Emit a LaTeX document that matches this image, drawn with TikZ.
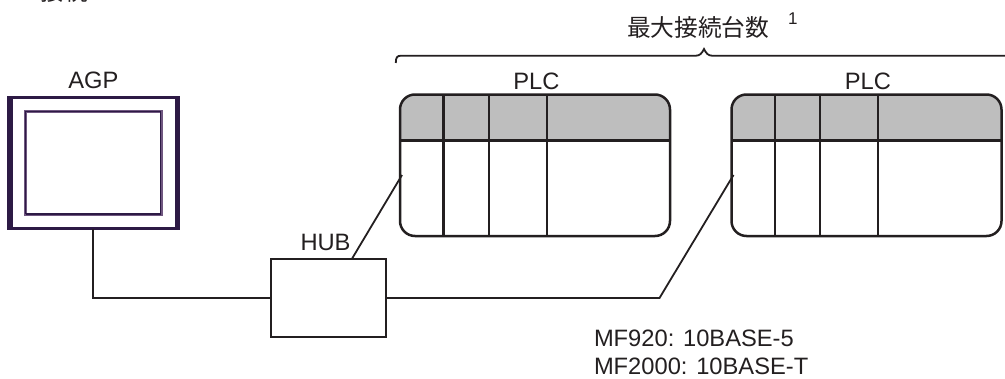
\documentclass[tikz,border=0pt]{standalone}
\usepackage{fontspec}
\setmainfont{Liberation Sans}
\newfontfamily\cjkfont{Noto Sans CJK JP}
\definecolor{ink}{HTML}{231F20}
\definecolor{agpdark}{HTML}{2D1A45}
\definecolor{agplight}{HTML}{6F5680}
\definecolor{plcgray}{HTML}{BEBEBE}
\tikzset{
  x=1pt,y=-1pt,
  lab/.style={inner sep=0pt,outer sep=0pt,anchor=base west,text=ink,font=\fontsize{23.7}{29}\selectfont},
  cjklab/.style={inner sep=0pt,outer sep=0pt,anchor=base west,text=ink,font=\fontsize{23.7}{29}\selectfont\cjkfont},
  supnum/.style={inner sep=0pt,outer sep=0pt,anchor=base west,text=ink,font=\fontsize{17}{20}\selectfont},
  wire/.style={draw=ink,line width=1.8pt,line join=miter},
  plcbox/.style={draw=ink,line width=2.5pt,rounded corners=15pt,minimum width=270pt,minimum height=141.5pt,inner sep=0pt,outer sep=0pt},
  plcbar/.style={draw=ink,line width=3.2pt},
  plcdiv/.style={draw=ink,line width=2.2pt},
  hubbox/.style={draw=ink,line width=2pt,minimum width=115pt,minimum height=77.5pt,inner sep=0pt,outer sep=0pt},
  agpbox/.style={draw=agpdark,line width=3pt,minimum width=169.5pt,minimum height=131.5pt,inner sep=0pt,outer sep=0pt},
  agpscreen/.style={draw=agplight,line width=3pt,minimum width=136.5pt,minimum height=103.5pt,inner sep=0pt,outer sep=0pt},
  agpinner/.style={draw=agpdark,line width=1.3pt,minimum width=135pt,minimum height=101.5pt,inner sep=0pt,outer sep=0pt},
  bracket/.style={draw=ink,line width=1.8pt}
}
\begin{document}
\begin{tikzpicture}
\useasboundingbox (0,0) rectangle (1005,378);
% cut-off heading
\node[cjklab] (heading) at (41,0.4) {接続};
% AGP
\node[agpbox] (agp) at (93.25,162.75) {};
\draw[agpdark,line width=2.4pt] (11.4,97) -- (11.4,228.5);
\draw[agpdark,line width=1.6pt] (175.8,97.5) -- (175.8,228);
\node[agpscreen] (screen) at (93.25,162.75) {};
\node[agpinner] (screenin) at (93.25,162.5) {};
\draw[agpdark,line width=1.8pt] (26,213.7) -- (160.5,213.7);
\node[lab] (agplabel) at (68.3,88.5) {AGP};
% PLC 1
\begin{scope}
\clip[rounded corners=15pt] (400,94.5) rectangle (670,236);
\fill[plcgray] (400,94.5) rectangle (670,140.5);
\end{scope}
\node[plcbox] (plca) at (535,165.25) {};
\draw[plcbar] (plca.west |- 0,140.5) -- (plca.east |- 0,140.5);
\foreach \vx in {443.5,488.7,546.7}{\draw[plcdiv] (\vx,94.5) -- (\vx,236);}
\node[lab] (plcalabel) at (513.3,89) {PLC};
% PLC 2
\begin{scope}
\clip[rounded corners=15pt] (731.5,94.5) rectangle (1001.5,236);
\fill[plcgray] (731.5,94.5) rectangle (1001.5,140.5);
\end{scope}
\node[plcbox] (plcb) at (866.5,165.25) {};
\draw[plcbar] (plcb.west |- 0,140.5) -- (plcb.east |- 0,140.5);
\foreach \vx in {775,820,878}{\draw[plcdiv] (\vx,94.5) -- (\vx,236);}
\node[lab] (plcblabel) at (844.8,89) {PLC};
% HUB
\node[hubbox] (hub) at (328.2,298) {};
\node[lab] (hublabel) at (300.5,250.8) {HUB};
% connectors
\coordinate (plcaport) at (402,175);
\coordinate (plcbport) at (733.5,175);
\coordinate (hubtop) at (351.7,259.2);
\coordinate (bendb) at (659.5,298);
\draw[wire] (agp.south) -- (agp.south |- hub.west) -- (hub.west);
\draw[wire] (hubtop) -- (plcaport);
\draw[wire] (hub.east) -- (bendb) -- (plcbport);
% bracket
\coordinate (brl) at (395.8,63);
\coordinate (brm) at (704,49);
\coordinate (brr) at (1006,55.7);
\draw[bracket] (brl) .. controls (395.8,57.5) and (397,55.7) .. (401,55.7)
  -- (696,55.7) .. controls (700,55.7) and (702,53) .. (brm)
  .. controls (706,53) and (708,55.7) .. (712,55.7) -- (brr);
% texts
\node[cjklab] (maxlabel) at (627,36) {最大接続台数};
\node[supnum] (note) at (788,24) {1};
\node[lab] (mfa) at (594,346) {MF920: 10BASE-5};
\node[lab] (mfb) at (594,374.5) {MF2000: 10BASE-T};
\end{tikzpicture}
\end{document}
